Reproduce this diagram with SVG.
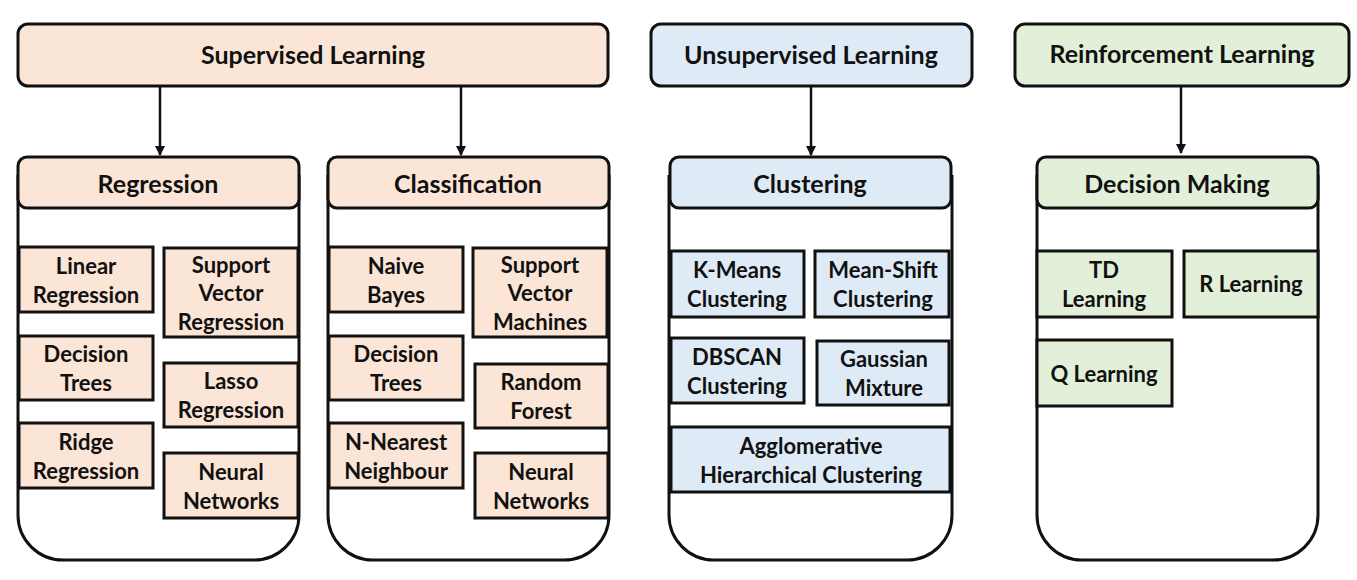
<svg xmlns="http://www.w3.org/2000/svg" width="1357" height="580" viewBox="0 0 1357 580">
<style>
.t{font-family:Lato,"Open Sans","Liberation Sans",sans-serif;font-weight:bold;fill:#111;text-anchor:middle}
.big{font-size:25px}
.it{font-size:22px}
.box{stroke:#111;stroke-width:3}
.hdr{stroke:#111;stroke-width:3}
.cont{fill:#fff;stroke:#111;stroke-width:3}
.pe{fill:#FBE5D6}.bl{fill:#DEEBF7}.gr{fill:#E2F0D9}
.con{stroke:#111;stroke-width:2.5;fill:none}
</style>
<defs>
<marker id="ah" viewBox="0 0 10 10" refX="9" refY="5" markerWidth="4" markerHeight="4" orient="auto" markerUnits="strokeWidth">
<path d="M0,0 L10,5 L0,10 z" fill="#111"/>
</marker>
</defs>
<rect width="1357" height="580" fill="#fff"/>

<g id="connectors">
<line class="con" x1="160" y1="87" x2="160" y2="155" marker-end="url(#ah)"/>
<line class="con" x1="461" y1="87" x2="461" y2="155" marker-end="url(#ah)"/>
<line class="con" x1="811" y1="87" x2="811" y2="155" marker-end="url(#ah)"/>
<line class="con" x1="1181" y1="87" x2="1181" y2="153" marker-end="url(#ah)"/>
</g>

<g id="supervised">
<rect class="hdr pe" x="18" y="24" width="590" height="62" rx="10"/>
<text class="t big" x="313" y="64">Supervised Learning</text>
</g>
<g id="unsupervised">
<rect class="hdr bl" x="651" y="24" width="321" height="62" rx="10"/>
<text class="t big" x="811" y="64">Unsupervised Learning</text>
</g>
<g id="reinforcement">
<rect class="hdr gr" x="1015" y="24" width="334" height="62" rx="10"/>
<text class="t big" x="1182" y="63">Reinforcement Learning</text>
</g>

<g id="regression">
<path class="cont" d="M18,175 V515 A45,45 0 0 0 63,560 H254 A45,45 0 0 0 299,515 V175"/>
<rect class="hdr pe" x="18" y="157" width="281" height="51" rx="9"/>
<text class="t big" x="158" y="193">Regression</text>
</g>
<g id="classification">
<path class="cont" d="M328,175 V515 A45,45 0 0 0 373,560 H564 A45,45 0 0 0 609,515 V175"/>
<rect class="hdr pe" x="328" y="157" width="281" height="51" rx="9"/>
<text class="t big" x="468" y="193">Classification</text>
</g>
<g id="clustering">
<path class="cont" d="M669,175 V515 A45,45 0 0 0 714,560 H907 A45,45 0 0 0 952,515 V175"/>
<rect class="hdr bl" x="670" y="157" width="281" height="51" rx="9"/>
<text class="t big" x="810" y="193">Clustering</text>
</g>
<g id="decision-making">
<path class="cont" d="M1037,175 V515 A45,45 0 0 0 1082,560 H1273 A45,45 0 0 0 1318,515 V175"/>
<rect class="hdr gr" x="1037" y="157" width="281" height="51" rx="9"/>
<text class="t big" x="1177" y="193">Decision Making</text>
</g>

<!-- Regression items -->
<g id="linear-regression"><rect class="box pe" x="19" y="247" width="134" height="65"/><text class="t it" x="86" y="274">Linear</text><text class="t it" x="86" y="303">Regression</text></g>
<g id="svr"><rect class="box pe" x="164" y="248" width="134" height="89"/><text class="t it" x="231" y="273">Support</text><text class="t it" x="231" y="301">Vector</text><text class="t it" x="231" y="330">Regression</text></g>
<g id="reg-decision-trees"><rect class="box pe" x="19" y="336" width="134" height="64"/><text class="t it" x="86" y="362">Decision</text><text class="t it" x="86" y="391">Trees</text></g>
<g id="lasso"><rect class="box pe" x="164" y="363" width="134" height="64"/><text class="t it" x="231" y="389">Lasso</text><text class="t it" x="231" y="418">Regression</text></g>
<g id="ridge"><rect class="box pe" x="19" y="423" width="134" height="65"/><text class="t it" x="86" y="450">Ridge</text><text class="t it" x="86" y="479">Regression</text></g>
<g id="reg-neural"><rect class="box pe" x="164" y="453" width="134" height="65"/><text class="t it" x="231" y="480">Neural</text><text class="t it" x="231" y="509">Networks</text></g>

<!-- Classification items -->
<g id="naive-bayes"><rect class="box pe" x="329" y="247" width="134" height="65"/><text class="t it" x="396" y="274">Naive</text><text class="t it" x="396" y="303">Bayes</text></g>
<g id="svm"><rect class="box pe" x="473" y="248" width="134" height="89"/><text class="t it" x="540" y="273">Support</text><text class="t it" x="540" y="301">Vector</text><text class="t it" x="540" y="330">Machines</text></g>
<g id="cls-decision-trees"><rect class="box pe" x="329" y="336" width="134" height="64"/><text class="t it" x="396" y="362">Decision</text><text class="t it" x="396" y="391">Trees</text></g>
<g id="random-forest"><rect class="box pe" x="475" y="364" width="133" height="64"/><text class="t it" x="541" y="390">Random</text><text class="t it" x="541" y="419">Forest</text></g>
<g id="knn"><rect class="box pe" x="329" y="423" width="134" height="65"/><text class="t it" x="396" y="450">N-Nearest</text><text class="t it" x="396" y="479">Neighbour</text></g>
<g id="cls-neural"><rect class="box pe" x="475" y="453" width="133" height="65"/><text class="t it" x="541" y="480">Neural</text><text class="t it" x="541" y="509">Networks</text></g>

<!-- Clustering items -->
<g id="kmeans"><rect class="box bl" x="671" y="251" width="133" height="66"/><text class="t it" x="737" y="278">K-Means</text><text class="t it" x="737" y="307">Clustering</text></g>
<g id="meanshift"><rect class="box bl" x="815" y="251" width="134" height="66"/><text class="t it" x="883" y="278">Mean-Shift</text><text class="t it" x="883" y="307">Clustering</text></g>
<g id="dbscan"><rect class="box bl" x="671" y="338" width="133" height="65"/><text class="t it" x="737" y="365">DBSCAN</text><text class="t it" x="737" y="394">Clustering</text></g>
<g id="gaussian"><rect class="box bl" x="817" y="341" width="132" height="64"/><text class="t it" x="884" y="367">Gaussian</text><text class="t it" x="884" y="396">Mixture</text></g>
<g id="agglomerative"><rect class="box bl" x="671" y="427" width="279" height="65"/><text class="t it" x="811" y="454">Agglomerative</text><text class="t it" x="811" y="483">Hierarchical Clustering</text></g>

<!-- Decision making items -->
<g id="td-learning"><rect class="box gr" x="1037" y="251" width="135" height="66"/><text class="t it" x="1104" y="278">TD</text><text class="t it" x="1104" y="307">Learning</text></g>
<g id="r-learning"><rect class="box gr" x="1184" y="251" width="134" height="66"/><text class="t it" x="1251" y="292">R Learning</text></g>
<g id="q-learning"><rect class="box gr" x="1037" y="340" width="135" height="66"/><text class="t it" x="1104" y="382">Q Learning</text></g>
</svg>
